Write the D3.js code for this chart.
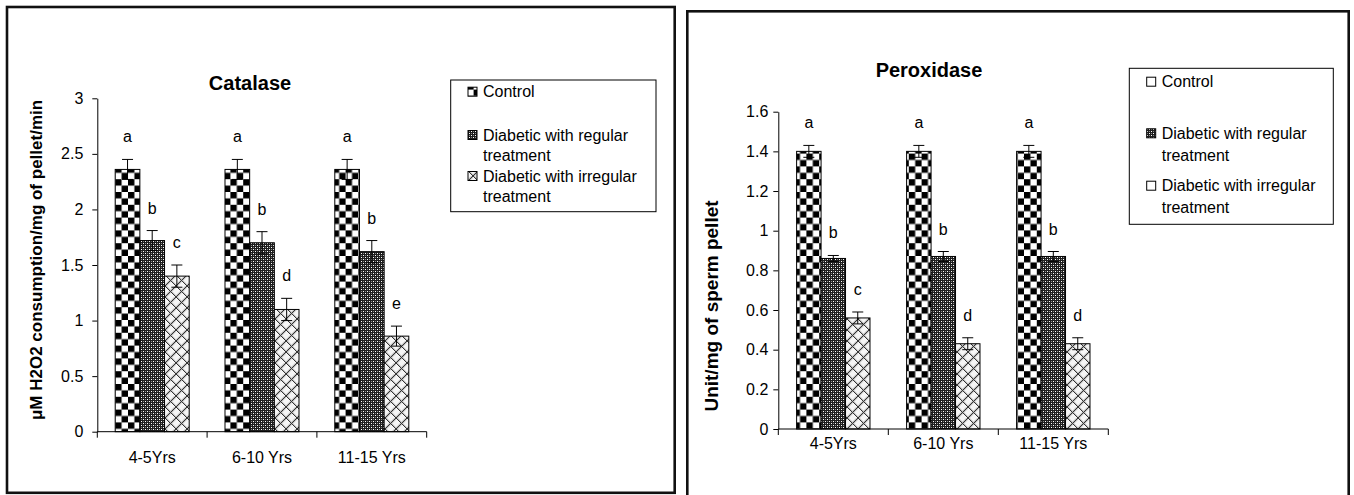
<!DOCTYPE html>
<html><head><meta charset="utf-8">
<script src="https://cdn.jsdelivr.net/npm/d3@7"></script>
<style>
body{margin:0;background:#fff}
svg{display:block}
text{font-family:"Liberation Sans",Arial,Helvetica,sans-serif;fill:#000}
</style>
</head><body>
<svg id="c" width="1354" height="495"></svg>
<script>
// ---------- data ----------
const categories = ["4-5Yrs", "6-10 Yrs", "11-15 Yrs"];
const seriesNames = ["Control", "Diabetic with regular treatment", "Diabetic with irregular treatment"];
const legendLines = [["Control"], ["Diabetic with regular", "treatment"], ["Diabetic with irregular", "treatment"]];

const catalaseControl = [2.36, 2.36, 2.36];
const catalaseRegular = [1.72, 1.70, 1.62];
const catalaseIrregular = [1.40, 1.10, 0.86];
const catalaseErrControl = [0.09, 0.09, 0.09];
const catalaseErrRegular = [0.09, 0.10, 0.10];
const catalaseErrIrregular = [0.10, 0.10, 0.09];
const catalaseLetters = [["a", "a", "a"], ["b", "b", "b"], ["c", "d", "e"]];
const catalaseTicks = [0, 0.5, 1, 1.5, 2, 2.5, 3];

const peroxidaseControl = [1.40, 1.40, 1.40];
const peroxidaseRegular = [0.86, 0.87, 0.87];
const peroxidaseIrregular = [0.56, 0.43, 0.43];
const peroxidaseErrControl = [0.03, 0.03, 0.03];
const peroxidaseErrRegular = [0.015, 0.025, 0.025];
const peroxidaseErrIrregular = [0.03, 0.03, 0.03];
const peroxidaseLetters = [["a", "a", "a"], ["b", "b", "b"], ["c", "d", "d"]];
const peroxidaseTicks = [0, 0.2, 0.4, 0.6, 0.8, 1, 1.2, 1.4, 1.6];

// ---------- patterns ----------
const svg = d3.select("#c");
const defs = svg.append("defs");

const pc = defs.append("pattern").attr("id", "pCheck").attr("patternUnits", "userSpaceOnUse")
  .attr("width", 12.8).attr("height", 12.8);
pc.append("rect").attr("width", 12.8).attr("height", 12.8).attr("fill", "#fff");
pc.append("rect").attr("width", 6.4).attr("height", 6.4).attr("fill", "#000");
pc.append("rect").attr("x", 6.4).attr("y", 6.4).attr("width", 6.4).attr("height", 6.4).attr("fill", "#000");

const pr = defs.append("pattern").attr("id", "pReg").attr("patternUnits", "userSpaceOnUse")
  .attr("width", 4).attr("height", 4);
pr.append("rect").attr("width", 4).attr("height", 4).attr("fill", "#1e1e1e");
pr.append("rect").attr("x", 1).attr("y", 1).attr("width", 1).attr("height", 1).attr("fill", "#fff");
pr.append("rect").attr("x", 3).attr("y", 3).attr("width", 1).attr("height", 1).attr("fill", "#fff");
pr.append("rect").attr("x", 3).attr("y", 1).attr("width", 1).attr("height", 1).attr("fill", "#8a8a8a");
pr.append("rect").attr("x", 1).attr("y", 3).attr("width", 1).attr("height", 1).attr("fill", "#8a8a8a");

const pi = defs.append("pattern").attr("id", "pIrr").attr("patternUnits", "userSpaceOnUse")
  .attr("width", 11).attr("height", 11);
pi.append("rect").attr("width", 11).attr("height", 11).attr("fill", "#f6f6f6");
pi.append("path").attr("d", "M1,0 L12,11 M-10,0 L1,11 M0,12 L12,0 M-1,11 L11,-1")
  .attr("stroke", "#bdbdbd").attr("stroke-width", 1.2).attr("fill", "none");
pi.append("path").attr("d", "M0,0 L11,11 M-11,0 L0,11 M0,11 L11,0 M-11,11 L0,0 M11,11 L22,0")
  .attr("stroke", "#333").attr("stroke-width", 1).attr("fill", "none");

const barFills = ["url(#pCheck)", "url(#pReg)", "url(#pIrr)"];

// ---------- chart configs ----------
const charts = [
  {
    values: [catalaseControl, catalaseRegular, catalaseIrregular],
    errors: [catalaseErrControl, catalaseErrRegular, catalaseErrIrregular],
    letters: catalaseLetters, ticks: catalaseTicks, domain: [0, 3],
    frame: {x: 7, y: 7, w: 667.7, h: 485.8},
    plot: {x0: 97.3, x1: 426.7, yb: 431.7, yt: 98.3}, groupFrac: 0.674,
    title: {text: "Catalase", x: 250, y: 89.5},
    ylabel: {text: "μM H2O2 consumption/mg of pellet/min", x: 42, y: 260, size: 17},
    tickPad: 9, catY: 463,
    legend: {x: 450.7, y: 80, w: 205.3, h: 131.7, tx: 483, sx: 468, rows: [91.7, 135, 176], lh: 20},
    swatches: ["url(#pCheck)", "url(#pReg)", "url(#pIrr)"]
  },
  {
    values: [peroxidaseControl, peroxidaseRegular, peroxidaseIrregular],
    errors: [peroxidaseErrControl, peroxidaseErrRegular, peroxidaseErrIrregular],
    letters: peroxidaseLetters, ticks: peroxidaseTicks, domain: [0, 1.6],
    frame: {x: 687.3, y: 11.3, w: 661.4, h: 495},
    plot: {x0: 778.3, x1: 1108.3, yb: 429, yt: 111.7}, groupFrac: 0.667,
    title: {text: "Peroxidase", x: 929, y: 77},
    ylabel: {text: "Unit/mg of sperm pellet", x: 718, y: 306, size: 19},
    tickPad: 5, catY: 449,
    legend: {x: 1129.3, y: 68.3, w: 204, h: 156, tx: 1161.7, sx: 1146.7, rows: [81.7, 133.3, 185.7], lh: 21.5},
    swatches: ["#fff", "url(#pReg)", "#fff"]
  }
];

charts.forEach(cfg => {
  const g = svg.append("g");
  const P = cfg.plot;

  // frame
  g.append("rect").attr("x", cfg.frame.x).attr("y", cfg.frame.y)
    .attr("width", cfg.frame.w).attr("height", cfg.frame.h)
    .attr("fill", "none").attr("stroke", "#111").attr("stroke-width", 2.6);

  const x = d3.scaleBand().domain(categories).range([P.x0, P.x1]).paddingInner(0).paddingOuter(0);
  const bw = x.bandwidth();
  const gw = bw * cfg.groupFrac;
  const xs = d3.scaleBand().domain(d3.range(seriesNames.length)).range([(bw - gw) / 2, (bw + gw) / 2]);
  const y = d3.scaleLinear().domain(cfg.domain).range([P.yb, P.yt]);

  const rows = [];
  cfg.values.forEach((arr, s) => arr.forEach((v, c) => rows.push({
    s, c, v, e: cfg.errors[s][c], l: cfg.letters[s][c]
  })));

  // bars
  g.selectAll("rect.bar").data(rows).join("rect").attr("class", "bar")
    .attr("x", d => x(categories[d.c]) + xs(d.s))
    .attr("y", d => y(d.v))
    .attr("width", xs.bandwidth())
    .attr("height", d => y(0) - y(d.v))
    .attr("fill", d => barFills[d.s])
    .attr("stroke", "#000").attr("stroke-width", 1);

  // error bars
  const eb = g.selectAll("g.eb").data(rows).join("g").attr("class", "eb")
    .attr("stroke", "#000").attr("stroke-width", 1);
  const cx = d => x(categories[d.c]) + xs(d.s) + xs.bandwidth() / 2;
  eb.append("line").attr("x1", cx).attr("x2", cx)
    .attr("y1", d => y(d.v - d.e)).attr("y2", d => y(d.v + d.e));
  eb.append("line").attr("x1", d => cx(d) - 5.5).attr("x2", d => cx(d) + 5.5)
    .attr("y1", d => y(d.v + d.e)).attr("y2", d => y(d.v + d.e));
  eb.append("line").attr("x1", d => cx(d) - 5.5).attr("x2", d => cx(d) + 5.5)
    .attr("y1", d => y(d.v - d.e)).attr("y2", d => y(d.v - d.e));

  // significance letters
  g.selectAll("text.lt").data(rows).join("text").attr("class", "lt")
    .attr("x", cx).attr("y", d => y(d.v + d.e) - 17)
    .attr("text-anchor", "middle").attr("font-size", 16).text(d => d.l);

  // y axis
  const ya = g.append("g").attr("transform", `translate(${P.x0},0)`)
    .call(d3.axisLeft(y).tickValues(cfg.ticks).tickSize(5).tickSizeOuter(0)
      .tickPadding(cfg.tickPad).tickFormat(d => String(d)));
  ya.selectAll("text").attr("font-size", 16).attr("font-family", null).attr("fill", "#000");
  ya.selectAll("path,line").attr("stroke", "#000");
  ya.attr("font-family", null);

  // x axis
  g.append("line").attr("x1", P.x0).attr("x2", P.x1).attr("y1", P.yb).attr("y2", P.yb)
    .attr("stroke", "#000");
  const bounds = categories.map(c => x(c)).concat([x(categories[categories.length - 1]) + bw]);
  g.selectAll("line.xt").data(bounds).join("line").attr("class", "xt")
    .attr("x1", d => d).attr("x2", d => d).attr("y1", P.yb).attr("y2", P.yb + 6)
    .attr("stroke", "#000");
  g.selectAll("text.cat").data(categories).join("text").attr("class", "cat")
    .attr("x", d => x(d) + bw / 2).attr("y", cfg.catY)
    .attr("text-anchor", "middle").attr("font-size", 16).text(d => d);

  // title
  g.append("text").attr("x", cfg.title.x).attr("y", cfg.title.y).attr("text-anchor", "middle")
    .attr("font-size", 20).attr("font-weight", "bold").text(cfg.title.text);

  // y label
  g.append("text").attr("transform", `translate(${cfg.ylabel.x},${cfg.ylabel.y}) rotate(-90)`)
    .attr("text-anchor", "middle").attr("font-size", cfg.ylabel.size).attr("font-weight", "bold")
    .text(cfg.ylabel.text);

  // legend
  const L = cfg.legend;
  g.append("rect").attr("x", L.x).attr("y", L.y).attr("width", L.w).attr("height", L.h)
    .attr("fill", "#fff").attr("stroke", "#000").attr("stroke-width", 1);
  seriesNames.forEach((name, s) => {
    const ry = L.rows[s];
    g.append("rect").attr("x", L.sx).attr("y", ry - 4.5).attr("width", 9).attr("height", 9)
      .attr("fill", cfg.swatches[s]).attr("stroke", "#000").attr("stroke-width", 1);
    legendLines[s].forEach((ln, k) => {
      g.append("text").attr("x", L.tx).attr("y", ry + k * L.lh + 5.7)
        .attr("font-size", 16).text(ln);
    });
  });
});
</script>
</body></html>
